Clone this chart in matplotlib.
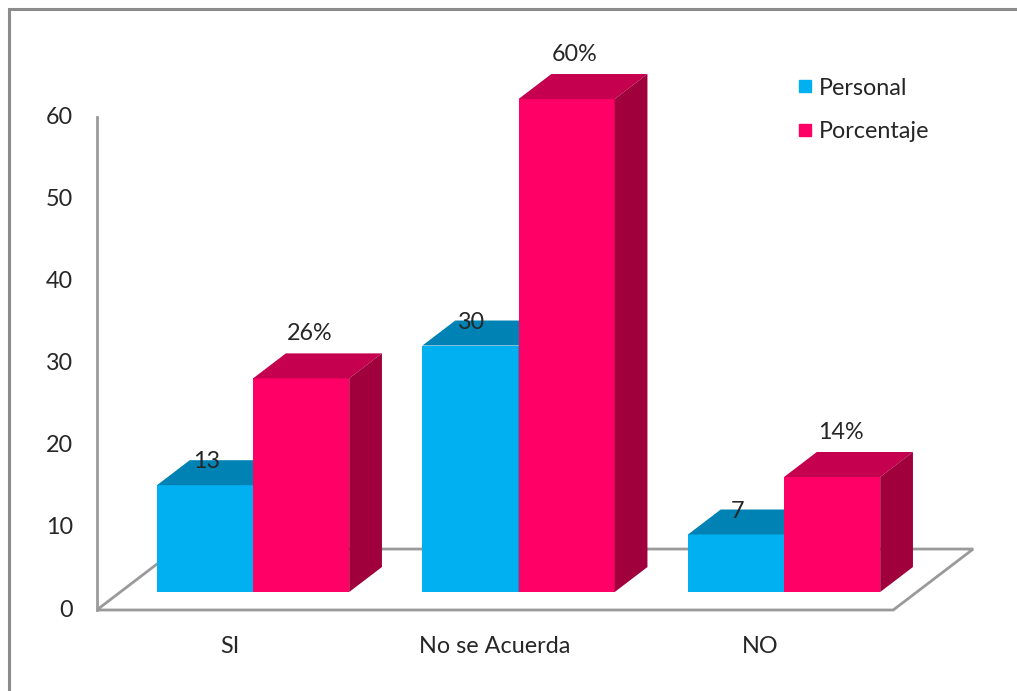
import matplotlib
matplotlib.use("Agg")
import matplotlib.pyplot as plt
from matplotlib.patches import Polygon, Rectangle
from matplotlib.lines import Line2D

categories = ["SI", "No se Acuerda", "NO"]
personal = [13, 30, 7]
porcentaje = [26, 60, 14]
personal_labels = ["13", "30", "7"]
porcentaje_labels = ["26%", "60%", "14%"]
yticks = [0, 10, 20, 30, 40, 50, 60]

plt.rcParams["font.family"] = ["Lato", "DejaVu Sans"]
FS = 16.8
TXT = "#262626"

# colours: front, top, side
blue = ("#00B0F0", "#0083B4", "#0070A0")
pink = ("#FF0066", "#C4004F", "#A0003C")

# oblique depth vector (category units, value units)
DX, DY = 0.301, 7.42
F0, F1 = 0.295, 0.705   # front/back of bars as fraction of floor depth
W = 0.362               # bar width

fig = plt.figure(figsize=(10.17, 6.91), dpi=100)
ax = fig.add_axes([0, 0, 1, 1])
ax.set_xlim(-0.8644, 2.9661)
ax.set_ylim(-9.858, 74.24)
ax.axis("off")

# outer chart border
fig.patches.append(Rectangle((8.5 / 1017, -0.1), 1.2, (691 - 8.5) / 691 + 0.1,
                             transform=fig.transFigure, fill=False,
                             ec="#8C8C8C", lw=2.2))

# floor and vertical axis line
n = len(categories)
floor = [(-0.5, 0), (n - 0.5, 0), (n - 0.5 + DX, DY), (-0.5 + DX, DY)]
ax.add_patch(Polygon(floor, closed=True, fill=False, ec="#9A9A9A", lw=2))
ax.plot([-0.5, -0.5], [0, max(yticks)], color="#9A9A9A", lw=2)

for t in yticks:
    ax.text(-0.59, t, str(t), ha="right", va="center", fontsize=FS, color=TXT)
for i, c in enumerate(categories):
    ax.text(i, -4.4, c, ha="center", va="center", fontsize=FS, color=TXT)


def draw_bar(x0, h, cols):
    fx, fy = F0 * DX, F0 * DY
    bx, by = F1 * DX, F1 * DY
    ax.bar(x0 + fx, h, width=W, bottom=fy, align="edge", color=cols[0], lw=0)
    top = [(x0 + fx, fy + h), (x0 + fx + W, fy + h),
           (x0 + bx + W, by + h), (x0 + bx, by + h)]
    ax.add_patch(Polygon(top, closed=True, fc=cols[1], lw=0))
    side = [(x0 + fx + W, fy), (x0 + fx + W, fy + h),
            (x0 + bx + W, by + h), (x0 + bx + W, by)]
    ax.add_patch(Polygon(side, closed=True, fc=cols[2], lw=0))


for i in range(n):
    draw_bar(i - W, personal[i], blue)
    draw_bar(i, porcentaje[i], pink)

for i in range(n):
    ax.text(i - W / 2 + F0 * DX + 0.005, personal[i] + F1 * DY - 0.2, personal_labels[i],
            ha="center", va="center", fontsize=FS, color=TXT)
    ax.text(i + W / 2 + 0.4 * DX, porcentaje[i] + F1 * DY + 2.4, porcentaje_labels[i],
            ha="center", va="center", fontsize=FS, color=TXT)

handles = [Line2D([], [], marker="s", ls="", color=blue[0], markersize=9),
           Line2D([], [], marker="s", ls="", color=pink[0], markersize=9)]
fig.legend(handles, ["Personal", "Porcentaje"], loc="upper left",
           bbox_to_anchor=(0.764, 0.918), frameon=False, fontsize=FS,
           handlelength=0.6, handletextpad=0.3, labelspacing=0.95,
           labelcolor=TXT)

fig.savefig("out.png", dpi=100)
